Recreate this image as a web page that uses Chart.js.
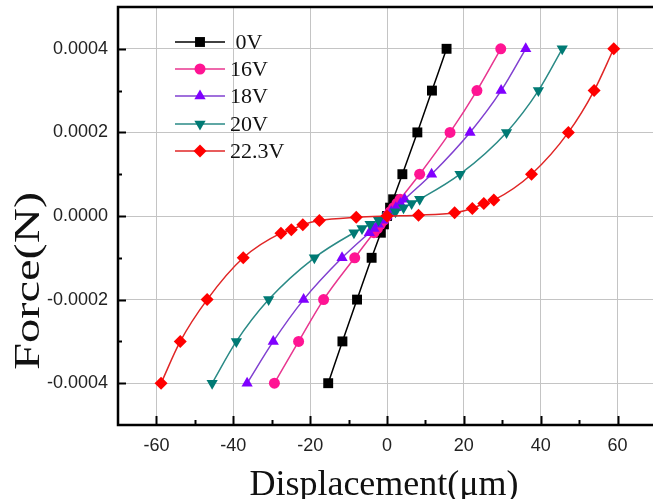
<!DOCTYPE html>
<html>
<head>
<meta charset="utf-8">
<script src="https://cdn.jsdelivr.net/npm/chart.js@4"></script>
<style>
  html, body { margin: 0; padding: 0; background: #fff; overflow: hidden; }
  #wrap { width: 670px; height: 499px; }
</style>
</head>
<body>
<div id="wrap"><canvas id="forceChart"></canvas></div>
<script>
// Series labels (voltages)
const labels = [' 0V', '16V', '18V', '20V', '22.3V'];

// Displacement (um) and Force (x1e-4 N) per voltage
const x0V = [-15.3, -11.6, -7.8, -4.0, -1.6, -0.8, 0, 0.8, 1.6, 4.0, 7.9, 11.7, 15.5];
const y0V = [-4, -3, -2, -1, -0.4, -0.2, 0, 0.2, 0.4, 1, 2, 3, 4];

const x16V = [-29.3, -23.0, -16.5, -8.4, -3.4, -2.5, -1.7, -0.8, 0, 0.8, 1.7, 2.6, 3.4, 8.5, 16.4, 23.4, 29.6];
const y16V = [-4, -3, -2, -1, -0.4, -0.3, -0.2, -0.1, 0, 0.1, 0.2, 0.3, 0.4, 1, 2, 3, 4];

const x18V = [-36.4, -29.6, -21.7, -11.7, -4.6, -3.4, -2.3, -1.1, 0, 1.1, 2.3, 3.5, 4.6, 11.6, 21.6, 29.7, 36.1];
const y18V = [-4, -3, -2, -1, -0.4, -0.3, -0.2, -0.1, 0, 0.1, 0.2, 0.3, 0.4, 1, 2, 3, 4];

const x20V = [-45.5, -39.2, -30.8, -18.9, -8.6, -6.5, -4.4, -2.2, 0, 2.2, 4.3, 6.4, 8.5, 19.0, 31.1, 39.4, 45.6];
const y20V = [-4, -3, -2, -1, -0.4, -0.3, -0.2, -0.1, 0, 0.1, 0.2, 0.3, 0.4, 1, 2, 3, 4];

const x22V = [-58.8, -53.8, -46.8, -37.4, -27.6, -24.9, -21.9, -17.6, -8.0, 0, 8.2, 17.6, 22.2, 25.2, 27.8, 37.6, 47.2, 53.9, 59.0];
const y22V = [-4, -3, -2, -1, -0.41, -0.33, -0.21, -0.11, -0.03, 0, 0.02, 0.08, 0.18, 0.3, 0.38, 1, 2, 3, 4];

const xsAll = [x0V, x16V, x18V, x20V, x22V];
const ysAll = [y0V, y16V, y18V, y20V, y22V];

// styles
const lineColors = ['#000000', '#e8368f', '#8040d0', '#2a8a86', '#e02626'];
const markColors = ['#000000', '#ff1493', '#8000ff', '#007a74', '#ff0000'];
const markStyles = ['rect', 'circle', 'triangle', 'triangle', 'rectRot'];
const markRot = [0, 0, 0, 180, 0];
const markRad = [7, 5.5, 6.5, 6.5, 6.5];

const datasets = labels.map((lab, i) => ({
    label: lab,
    data: xsAll[i].map((x, j) => ({ x: x, y: ysAll[i][j] * 1e-4 })),
    borderColor: lineColors[i],
    backgroundColor: markColors[i],
    pointBackgroundColor: markColors[i],
    pointBorderColor: markColors[i],
    pointStyle: markStyles[i],
    rotation: markRot[i],
    pointRadius: markRad[i],
    pointBorderWidth: 0,
    borderWidth: 1.5,
    cubicInterpolationMode: 'monotone',
    showLine: true,
    fill: false,
    order: 4 - i
}));

const serif = '"Liberation Serif", "Times New Roman", serif';
const sans = '"Liberation Sans", Arial, sans-serif';

// frame, inward ticks, axis titles and legend
const decor = {
    id: 'decor',
    afterDraw(chart) {
        const ctx = chart.ctx;
        const a = chart.chartArea;
        const xs = chart.scales.x, ys = chart.scales.y;
        ctx.save();
        ctx.strokeStyle = '#000';
        ctx.lineWidth = 2;
        xs.ticks.forEach(t => {
            const v = Math.round(t.value);
            if (Math.abs(v) >= 70) return;
            const px = Math.round(xs.getPixelForValue(v)) + 0.5;
            const len = v % 20 === 0 ? 9 : 5;
            ctx.beginPath(); ctx.moveTo(px, a.bottom); ctx.lineTo(px, a.bottom - len); ctx.stroke();
        });
        ys.ticks.forEach(t => {
            const k = Math.round(t.value * 1e4);
            if (Math.abs(k) >= 5) return;
            const py = Math.round(ys.getPixelForValue(t.value)) + 0.5;
            const len = k % 2 === 0 ? 8 : 4;
            ctx.beginPath(); ctx.moveTo(a.left, py); ctx.lineTo(a.left + len, py); ctx.stroke();
        });
        ctx.lineWidth = 2.5;
        ctx.strokeRect(a.left, a.top, a.right - a.left, a.bottom - a.top);

        // axis titles
        ctx.fillStyle = '#111';
        ctx.font = '36px ' + serif;
        ctx.textAlign = 'center';
        ctx.textBaseline = 'alphabetic';
        ctx.fillText('Displacement(\u03bcm)', 384, 495);
        ctx.save();
        ctx.translate(39, 281);
        ctx.rotate(-Math.PI / 2);
        ctx.scale(1.35, 1);
        ctx.fillText('Force(N)', 0, 0);
        ctx.restore();

        // legend
        const rowY = [42, 69, 96, 124, 151];
        ctx.font = '22px ' + serif;
        ctx.textAlign = 'left';
        ctx.textBaseline = 'middle';
        labels.forEach((lab, i) => {
            const y = rowY[i];
            ctx.strokeStyle = lineColors[i];
            ctx.lineWidth = 1.5;
            ctx.beginPath(); ctx.moveTo(175, y); ctx.lineTo(225, y); ctx.stroke();
            ctx.fillStyle = markColors[i];
            ctx.strokeStyle = markColors[i];
            Chart.helpers.drawPoint(ctx, {
                pointStyle: markStyles[i], radius: markRad[i], rotation: markRot[i], borderWidth: 0
            }, 200, y);
            ctx.fillStyle = '#111';
            ctx.fillText(lab, 230, y + 1);
        });
        ctx.restore();
    }
};

new Chart(document.getElementById('forceChart'), {
    type: 'scatter',
    data: { datasets: datasets },
    options: {
        responsive: true,
        maintainAspectRatio: false,
        animation: false,
        layout: { padding: { left: 0, right: 14, top: 7, bottom: 0 } },
        plugins: { legend: { display: false }, tooltip: { enabled: false } },
        scales: {
            x: {
                type: 'linear', min: -70, max: 70,
                afterFit: s => { s.height = 74; s.paddingLeft = 0; s.paddingRight = 0; },
                border: { display: false },
                grid: {
                    drawTicks: false,
                    color: c => (c.tick && Math.round(c.tick.value) % 20 === 0 && Math.abs(c.tick.value) < 70) ? '#c4c4c4' : 'rgba(0,0,0,0)',
                    lineWidth: 1
                },
                ticks: {
                    stepSize: 10, padding: 10, color: '#222',
                    font: { family: sans, size: 18 },
                    callback: v => (Math.round(v) % 20 === 0 && Math.abs(v) < 70) ? String(Math.round(v)) : ''
                }
            },
            y: {
                type: 'linear', min: -0.0005, max: 0.0005,
                afterFit: s => { s.width = 118; s.paddingTop = 0; s.paddingBottom = 0; },
                border: { display: false },
                grid: {
                    drawTicks: false,
                    color: c => {
                        if (!c.tick) return 'rgba(0,0,0,0)';
                        const k = Math.round(c.tick.value * 1e4);
                        return (k % 2 === 0 && Math.abs(k) < 5) ? '#c4c4c4' : 'rgba(0,0,0,0)';
                    },
                    lineWidth: 1
                },
                ticks: {
                    stepSize: 0.0001, padding: 10, color: '#222',
                    font: { family: sans, size: 18 },
                    callback: v => {
                        const k = Math.round(v * 1e4);
                        return (k % 2 === 0 && Math.abs(k) < 5) ? (k / 1e4).toFixed(4) : '';
                    }
                }
            }
        }
    },
    plugins: [decor]
});
</script>
</body>
</html>
